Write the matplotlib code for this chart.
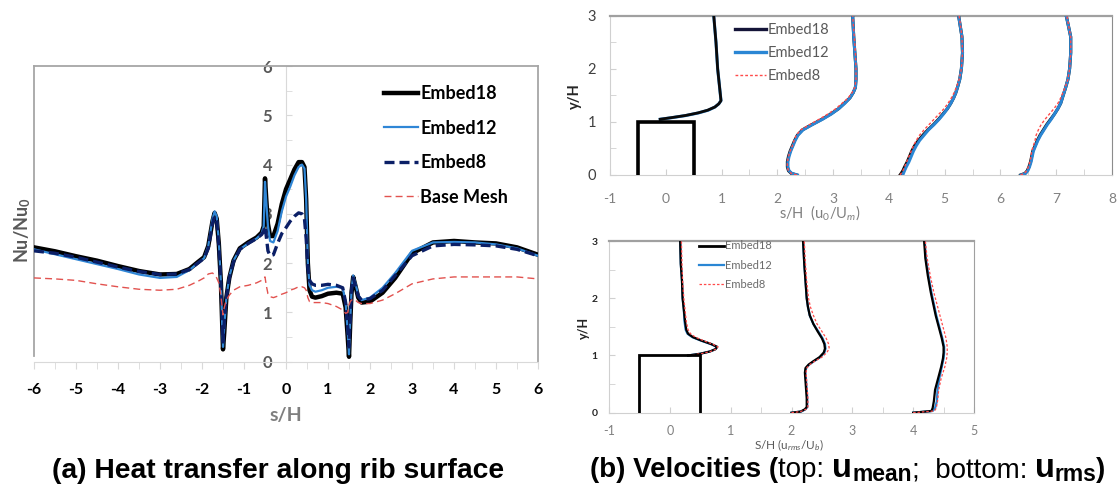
import matplotlib
matplotlib.use("Agg")
import matplotlib.pyplot as plt
from matplotlib.ticker import MultipleLocator
from matplotlib.lines import Line2D

plt.rcParams['font.family'] = ['Lato', 'DejaVu Sans']
plt.rcParams['mathtext.fontset'] = 'custom'
plt.rcParams['mathtext.rm'] = 'Lato'
plt.rcParams['mathtext.bf'] = 'Lato:bold'
plt.rcParams['mathtext.it'] = 'Lato:italic'
plt.rcParams['axes.unicode_minus'] = False

# ---------------- (a) heat transfer along rib surface ----------------
s_pos = [-6.0, -5.5, -5.0, -4.5, -4.0, -3.5, -3.0, -2.6, -2.3, -2.1,
         -1.95, -1.85, -1.75, -1.7, -1.65, -1.6, -1.55, -1.52, -1.5, -1.47,
         -1.42, -1.35, -1.25, -1.1, -0.9, -0.7, -0.58, -0.53, -0.5, -0.47,
         -0.43, -0.38, -0.3, -0.2, -0.1, 0.0, 0.1, 0.2, 0.3, 0.38,
         0.44, 0.48, 0.52, 0.56, 0.62, 0.7, 0.85, 1.0, 1.2, 1.35,
         1.42, 1.47, 1.5, 1.53, 1.56, 1.6, 1.65, 1.72, 1.8, 2.0,
         2.3, 2.6, 3.0, 3.5, 4.0, 4.5, 5.0, 5.5, 6.0]

nu_embed18 = [2.32, 2.24, 2.14, 2.05, 1.94, 1.84, 1.77, 1.78, 1.88, 2.02,
              2.12, 2.35, 2.85, 3.02, 2.90, 2.40, 1.60, 0.80, 0.25, 0.60,
              1.30, 1.70, 2.05, 2.30, 2.42, 2.52, 2.62, 2.75, 3.72, 3.30,
              2.80, 2.55, 2.55, 2.80, 3.20, 3.50, 3.70, 3.90, 4.05, 4.05,
              3.95, 3.30, 2.00, 1.45, 1.32, 1.30, 1.33, 1.38, 1.40, 1.38,
              1.10, 0.50, 0.10, 0.80, 1.40, 1.72, 1.55, 1.30, 1.20, 1.22,
              1.40, 1.70, 2.20, 2.42, 2.45, 2.42, 2.40, 2.32, 2.17]

nu_embed12 = [2.28, 2.18, 2.08, 1.98, 1.88, 1.77, 1.70, 1.72, 1.86, 2.00,
              2.10, 2.35, 2.90, 3.05, 2.95, 2.45, 1.60, 0.80, 0.30, 0.70,
              1.30, 1.72, 2.05, 2.28, 2.40, 2.50, 2.60, 2.75, 3.65, 3.25,
              2.75, 2.45, 2.42, 2.65, 3.05, 3.35, 3.55, 3.78, 3.95, 4.00,
              3.92, 3.30, 2.00, 1.55, 1.45, 1.42, 1.45, 1.50, 1.52, 1.50,
              1.20, 0.60, 0.15, 0.85, 1.45, 1.75, 1.60, 1.35, 1.25, 1.30,
              1.50, 1.80, 2.25, 2.42, 2.43, 2.42, 2.38, 2.30, 2.15]

nu_embed8 = [2.25, 2.20, 2.12, 2.02, 1.92, 1.83, 1.77, 1.78, 1.87, 2.00,
             2.10, 2.30, 2.80, 2.95, 2.85, 2.35, 1.60, 0.90, 0.40, 0.80,
             1.30, 1.70, 2.02, 2.28, 2.40, 2.50, 2.58, 2.65, 2.75, 2.55,
             2.25, 2.15, 2.17, 2.40, 2.60, 2.72, 2.85, 2.95, 3.02, 3.00,
             2.90, 2.50, 1.90, 1.65, 1.58, 1.55, 1.55, 1.57, 1.55, 1.50,
             1.20, 0.70, 0.30, 0.90, 1.45, 1.70, 1.55, 1.33, 1.25, 1.28,
             1.45, 1.75, 2.15, 2.35, 2.38, 2.37, 2.35, 2.28, 2.15]

nu_base = [1.70, 1.68, 1.65, 1.58, 1.52, 1.47, 1.45, 1.47, 1.55, 1.63,
           1.70, 1.78, 1.80, 1.76, 1.70, 1.60, 1.35, 1.10, 0.95, 1.10,
           1.25, 1.35, 1.45, 1.52, 1.55, 1.60, 1.65, 1.70, 1.72, 1.55,
           1.38, 1.32, 1.30, 1.33, 1.37, 1.40, 1.45, 1.48, 1.52, 1.52,
           1.50, 1.45, 1.30, 1.22, 1.20, 1.20, 1.20, 1.18, 1.12, 1.05,
           0.98, 1.00, 1.15, 1.22, 1.25, 1.27, 1.25, 1.20, 1.18, 1.18,
           1.25, 1.38, 1.58, 1.68, 1.72, 1.72, 1.72, 1.72, 1.68]

labels_a = ["Embed18", "Embed12", "Embed8", "Base Mesh"]

# ---------------- (b) top: mean velocity profiles ----------------
rib_x = [-0.5, -0.5, 0.5, 0.5]
rib_y = [0.0, 1.0, 1.0, 0.0]

um_p1_y = [1.05, 1.08, 1.12, 1.17, 1.22, 1.28, 1.34, 1.40, 1.50, 1.70, 2.00, 2.50, 3.00]
um_p1_e18 = [-0.10, 0.10, 0.35, 0.58, 0.75, 0.88, 0.95, 0.99, 0.98, 0.96, 0.93, 0.90, 0.86]
um_p1_e12 = [-0.10, 0.11, 0.36, 0.59, 0.76, 0.88, 0.95, 0.99, 0.98, 0.96, 0.93, 0.90, 0.86]
um_p1_e8 = [-0.10, 0.10, 0.34, 0.57, 0.74, 0.87, 0.95, 0.99, 0.98, 0.96, 0.93, 0.90, 0.87]

um_y = [0.0, 0.03, 0.08, 0.15, 0.25, 0.35, 0.45, 0.55, 0.65, 0.75, 0.85, 0.95,
        1.05, 1.15, 1.25, 1.35, 1.45, 1.55, 1.65, 1.80, 2.00, 2.30, 2.60, 3.00]
um_p2_e18 = [2.35, 2.25, 2.20, 2.18, 2.18, 2.20, 2.23, 2.27, 2.31, 2.36, 2.45, 2.62,
             2.80, 2.96, 3.10, 3.20, 3.30, 3.36, 3.40, 3.41, 3.41, 3.39, 3.37, 3.35]
um_p2_e12 = [2.36, 2.26, 2.21, 2.19, 2.19, 2.21, 2.24, 2.28, 2.32, 2.37, 2.46, 2.63,
             2.81, 2.97, 3.10, 3.21, 3.30, 3.36, 3.40, 3.41, 3.41, 3.39, 3.37, 3.35]
um_p2_e8 = [2.35, 2.25, 2.20, 2.18, 2.18, 2.20, 2.23, 2.27, 2.30, 2.34, 2.42, 2.58,
            2.75, 2.91, 3.05, 3.16, 3.27, 3.34, 3.39, 3.41, 3.41, 3.40, 3.38, 3.35]
um_p3_e18 = [4.20, 4.22, 4.25, 4.28, 4.33, 4.37, 4.41, 4.46, 4.53, 4.61, 4.70, 4.80,
             4.89, 4.97, 5.05, 5.11, 5.16, 5.20, 5.23, 5.27, 5.30, 5.32, 5.31, 5.25]
um_p3_e12 = [4.25, 4.26, 4.28, 4.31, 4.36, 4.40, 4.44, 4.49, 4.55, 4.63, 4.71, 4.81,
             4.90, 4.98, 5.05, 5.11, 5.16, 5.20, 5.23, 5.27, 5.30, 5.32, 5.31, 5.25]
um_p3_e8 = [4.20, 4.22, 4.25, 4.28, 4.32, 4.36, 4.40, 4.44, 4.49, 4.55, 4.63, 4.72,
            4.81, 4.90, 4.99, 5.06, 5.12, 5.17, 5.21, 5.26, 5.30, 5.32, 5.31, 5.26]
um_p4_e18 = [6.36, 6.44, 6.48, 6.51, 6.54, 6.56, 6.58, 6.62, 6.66, 6.71, 6.77, 6.83,
             6.90, 6.97, 7.03, 7.08, 7.11, 7.14, 7.17, 7.21, 7.24, 7.26, 7.26, 7.18]
um_p4_e12 = [6.37, 6.45, 6.49, 6.52, 6.55, 6.57, 6.59, 6.63, 6.67, 6.72, 6.78, 6.84,
             6.91, 6.97, 7.03, 7.08, 7.11, 7.14, 7.17, 7.21, 7.24, 7.26, 7.26, 7.18]
um_p4_e8 = [6.36, 6.43, 6.47, 6.50, 6.53, 6.55, 6.56, 6.59, 6.62, 6.64, 6.68, 6.73,
            6.80, 6.88, 6.96, 7.03, 7.08, 7.12, 7.16, 7.21, 7.24, 7.26, 7.26, 7.19]

# ---------------- (b) bottom: rms velocity profiles ----------------
ur_p1_y = [1.0, 1.03, 1.07, 1.11, 1.15, 1.20, 1.26, 1.32, 1.38, 1.45, 1.60, 1.80, 2.00, 2.30, 2.60, 3.00]
ur_p1_e18 = [0.30, 0.50, 0.66, 0.75, 0.78, 0.68, 0.52, 0.38, 0.30, 0.27, 0.25, 0.23, 0.21, 0.20, 0.18, 0.17]
ur_p1_e12 = [0.30, 0.50, 0.66, 0.75, 0.77, 0.67, 0.51, 0.37, 0.29, 0.26, 0.24, 0.23, 0.21, 0.20, 0.18, 0.17]
ur_p1_e8 = [0.30, 0.51, 0.67, 0.76, 0.79, 0.70, 0.55, 0.42, 0.34, 0.30, 0.27, 0.25, 0.23, 0.21, 0.20, 0.19]

ur_p2_y = [0.0, 0.02, 0.06, 0.10, 0.25, 0.40, 0.55, 0.70, 0.78, 0.84, 0.90, 0.97,
           1.05, 1.12, 1.20, 1.30, 1.42, 1.55, 1.70, 1.85, 2.00, 2.30, 2.60, 3.00]
ur_p2_e18 = [2.00, 2.15, 2.22, 2.25, 2.25, 2.24, 2.23, 2.22, 2.23, 2.28, 2.36, 2.46,
             2.53, 2.55, 2.54, 2.50, 2.43, 2.36, 2.30, 2.27, 2.25, 2.23, 2.21, 2.19]
ur_p2_e12 = [2.00, 2.16, 2.23, 2.26, 2.26, 2.25, 2.24, 2.23, 2.24, 2.29, 2.37, 2.47,
             2.54, 2.56, 2.55, 2.51, 2.44, 2.36, 2.30, 2.27, 2.25, 2.23, 2.21, 2.19]
ur_p2_e8 = [2.00, 2.15, 2.24, 2.27, 2.27, 2.26, 2.25, 2.24, 2.25, 2.30, 2.38, 2.50,
            2.58, 2.62, 2.61, 2.57, 2.50, 2.42, 2.36, 2.31, 2.28, 2.25, 2.23, 2.21]

ur_p3_y = [0.0, 0.03, 0.08, 0.20, 0.40, 0.60, 0.80, 0.95, 1.05, 1.15, 1.30, 1.50,
           1.70, 1.90, 2.10, 2.40, 2.70, 3.00]
ur_p3_e18 = [4.00, 4.30, 4.32, 4.34, 4.36, 4.41, 4.46, 4.49, 4.50, 4.50, 4.47, 4.42,
             4.37, 4.33, 4.29, 4.24, 4.20, 4.18]
ur_p3_e12 = [4.00, 4.32, 4.36, 4.39, 4.40, 4.43, 4.47, 4.50, 4.51, 4.51, 4.48, 4.43,
             4.38, 4.34, 4.30, 4.25, 4.21, 4.19]
ur_p3_e8 = [4.00, 4.35, 4.38, 4.40, 4.42, 4.46, 4.52, 4.55, 4.56, 4.56, 4.54, 4.49,
            4.44, 4.39, 4.34, 4.28, 4.23, 4.20]

labels_b = ["Embed18", "Embed12", "Embed8"]

W, H = 1120, 486
fig = plt.figure(figsize=(W / 100, H / 100), dpi=100)

# ======================= panel (a) =======================
axA = fig.add_axes([34 / W, 1 - 361.7 / H, 504 / W, 295.7 / H])
axA.set_xlim(-6, 6)
axA.set_ylim(0, 6)
axA.plot(s_pos, nu_embed18, color='black', lw=3.2, zorder=3, label=labels_a[0])
axA.plot(s_pos, nu_embed12, color='#2f86d6', lw=1.6, zorder=4, label=labels_a[1])
axA.plot(s_pos, nu_embed8, color='#0b1f66', lw=2.4, ls=(0, (3, 1.5)), zorder=5, label=labels_a[2])
axA.plot(s_pos, nu_base, color='#e2524f', lw=1.0, ls=(0, (5, 3)), zorder=6, label=labels_a[3])

axA.spines['left'].set_position(('data', 0))
axA.spines['left'].set_color('#d9d9d9')
axA.spines['bottom'].set_color('#d9d9d9')
axA.spines['top'].set_color('#a6a6a6')
axA.spines['right'].set_color('#a6a6a6')
axA.spines['top'].set_linewidth(1.3)
axA.spines['right'].set_linewidth(1.3)
axA.plot([0, 0], [0.02, 1], transform=axA.transAxes, color='#a6a6a6', lw=1.3, clip_on=False)

axA.xaxis.set_major_locator(MultipleLocator(1))
axA.xaxis.set_minor_locator(MultipleLocator(0.5))
axA.yaxis.set_major_locator(MultipleLocator(1))
axA.yaxis.set_minor_locator(MultipleLocator(0.5))
axA.tick_params(axis='x', which='both', direction='out', length=5, color='#d9d9d9',
                labelsize=11.5, labelcolor='black', pad=10.5)
axA.tick_params(axis='y', which='both', direction='in', length=4, color='#d9d9d9',
                labelsize=12, labelcolor='#595959', pad=10)
for t in axA.get_xticklabels():
    t.set_fontweight('bold')
for t in axA.get_yticklabels():
    t.set_fontweight('bold')
    t.set_bbox(dict(facecolor='white', edgecolor='none', pad=0.5))

axA.legend(loc='upper left', bbox_to_anchor=(0.695, 0.935), frameon=False,
           prop={'family': 'Lato', 'weight': 'bold', 'size': 13},
           handlelength=1.85, handletextpad=0.15, labelspacing=0.97,
           borderpad=0, borderaxespad=0)

fig.text(286 / W, 1 - 415 / H, "s/H", ha='center', va='center', fontsize=14,
         fontweight='bold', color='#7f7f7f')
fig.text(23 / W, 1 - 230 / H, r"Nu/Nu$_\mathbf{0}$", ha='center', va='center', rotation=90,
         fontsize=13, fontweight='bold', color='#595959')

# ======================= panel (b) top =======================
axB = fig.add_axes([610 / W, 1 - 175 / H, 502 / W, 159.3 / H])
axB.set_xlim(-1, 8)
axB.set_ylim(0, 3)
c18, c12, c8 = '#0a0a0a', '#2a86d4', '#ff4a4a'
axB.plot(rib_x, rib_y, color='black', lw=2.6, zorder=6, solid_joinstyle='miter')
axB.plot(um_p1_e12, um_p1_y, color=c12, lw=2.2, zorder=3)
axB.plot(um_p1_e8, um_p1_y, color=c8, lw=1.0, ls=(0, (2, 1.5)), zorder=4)
axB.plot(um_p1_e18, um_p1_y, color=c18, lw=2.0, zorder=5)
for e18, e12, e8 in [(um_p2_e18, um_p2_e12, um_p2_e8),
                     (um_p3_e18, um_p3_e12, um_p3_e8),
                     (um_p4_e18, um_p4_e12, um_p4_e8)]:
    axB.plot(e18, um_y, color=c18, lw=2.2, zorder=3)
    axB.plot(e12, um_y, color=c12, lw=2.2, zorder=4)
    axB.plot(e8, um_y, color=c8, lw=1.0, ls=(0, (2, 1.5)), zorder=5)

hB = [Line2D([], [], color='#141438', lw=2.4), Line2D([], [], color=c12, lw=2.4),
      Line2D([], [], color=c8, lw=1.0, ls=(0, (2, 1.5)))]
axB.legend(hB, labels_b, loc='upper left', bbox_to_anchor=(0.249, 0.955), frameon=False,
           prop={'family': 'Lato', 'size': 10.5}, labelcolor='#595959',
           handlelength=2.1, handletextpad=0.15, labelspacing=0.62,
           borderpad=0, borderaxespad=0)

for sp in ['left', 'bottom']:
    axB.spines[sp].set_color('#d0d0d0')
axB.spines['top'].set_color('#a0a0a0')
axB.spines['top'].set_linewidth(1.6)
axB.spines['right'].set_color('#8c8c8c')
axB.xaxis.set_major_locator(MultipleLocator(1))
axB.xaxis.set_minor_locator(MultipleLocator(0.5))
axB.yaxis.set_major_locator(MultipleLocator(1))
axB.yaxis.set_minor_locator(MultipleLocator(0.5))
axB.tick_params(axis='both', which='both', direction='in', length=4, color='#d0d0d0')
axB.tick_params(axis='x', labelsize=10, labelcolor='#808080', pad=13)
axB.tick_params(axis='y', labelsize=10.5, labelcolor='#404040', pad=10)
fig.text(820 / W, 1 - 213 / H, r"s/H  (u$_0$/U$_m$)", ha='center', va='center',
         fontsize=10.5, color='#7f7f7f')
fig.text(575 / W, 1 - 96 / H, "y/H", ha='center', va='center', rotation=90,
         fontsize=10.5, fontweight='bold', color='#262626')

# ======================= panel (b) bottom =======================
axC = fig.add_axes([609 / W, 1 - 412.7 / H, 365 / W, 171.7 / H])
axC.set_xlim(-1, 5)
axC.set_ylim(0, 3)
axC.plot(rib_x, rib_y, color='black', lw=2.0, zorder=6, solid_joinstyle='miter')
for (yy, e18, e12, e8) in [(ur_p1_y, ur_p1_e18, ur_p1_e12, ur_p1_e8),
                           (ur_p2_y, ur_p2_e18, ur_p2_e12, ur_p2_e8),
                           (ur_p3_y, ur_p3_e18, ur_p3_e12, ur_p3_e8)]:
    axC.plot(e12, yy, color=c12, lw=1.6, zorder=3)
    axC.plot(e18, yy, color='black', lw=1.6, zorder=4)
    axC.plot(e8, yy, color=c8, lw=0.9, ls=(0, (2, 1.5)), zorder=5)

hC = [Line2D([], [], color='black', lw=2.0), Line2D([], [], color=c12, lw=1.6),
      Line2D([], [], color=c8, lw=0.9, ls=(0, (2, 1.5)))]
axC.legend(hC, labels_b, loc='upper left', bbox_to_anchor=(0.247, 1.003), frameon=False,
           prop={'family': 'Lato', 'size': 8}, labelcolor='#6b6b6b',
           handlelength=2.2, handletextpad=0.1, labelspacing=0.75,
           borderpad=0, borderaxespad=0)

for sp in ['left', 'bottom']:
    axC.spines[sp].set_color('#d0d0d0')
axC.spines['top'].set_color('#a0a0a0')
axC.spines['top'].set_linewidth(1.6)
axC.spines['right'].set_color('#a0a0a0')
axC.xaxis.set_major_locator(MultipleLocator(1))
axC.xaxis.set_minor_locator(MultipleLocator(0.5))
axC.yaxis.set_major_locator(MultipleLocator(1))
axC.yaxis.set_minor_locator(MultipleLocator(0.5))
axC.tick_params(axis='both', which='both', direction='in', length=4, color='#d0d0d0')
axC.tick_params(axis='x', labelsize=9, labelcolor='#808080', pad=9)
axC.tick_params(axis='y', labelsize=7.5, labelcolor='#262626', pad=8)
for t in axC.get_yticklabels():
    t.set_fontweight('bold')
fig.text(789 / W, 1 - 445 / H, r"S/H (u$_{rms}$/U$_b$)", ha='center', va='center',
         fontsize=8.5, color='#595959')
fig.text(584 / W, 1 - 328 / H, "y/H", ha='center', va='center', rotation=90,
         fontsize=9, fontweight='bold', color='#262626')

# ======================= titles =======================
fig.text(278 / W, 1 - 478 / H, "(a) Heat transfer along rib surface", ha='center',
         va='baseline', fontsize=20.3, fontweight='bold', family='Liberation Sans')

renderer = fig.canvas.get_renderer()
base_y = 1 - 477 / H
pieces = [("(b) Velocities (", 20, 'bold', 0),
          ("top: ", 20, 'normal', 0),
          ("u", 23.5, 'bold', 0),
          ("mean", 16.5, 'bold', -4),
          (";  bottom: ", 20, 'normal', 0),
          ("u", 23.5, 'bold', 0),
          ("rms", 16.5, 'bold', -4),
          (")", 20, 'bold', 0)]
objs = []
for txt, fs, fw, dy in pieces:
    t = fig.text(0, base_y + dy / H, txt, fontsize=fs, fontweight=fw,
                 family='Liberation Sans', va='baseline', ha='left')
    objs.append(t)
widths = [t.get_window_extent(renderer).width for t in objs]
x = 848 - sum(widths) / 2
for t, w in zip(objs, widths):
    t.set_x(x / W)
    x += w

fig.savefig("out.png", dpi=100)
